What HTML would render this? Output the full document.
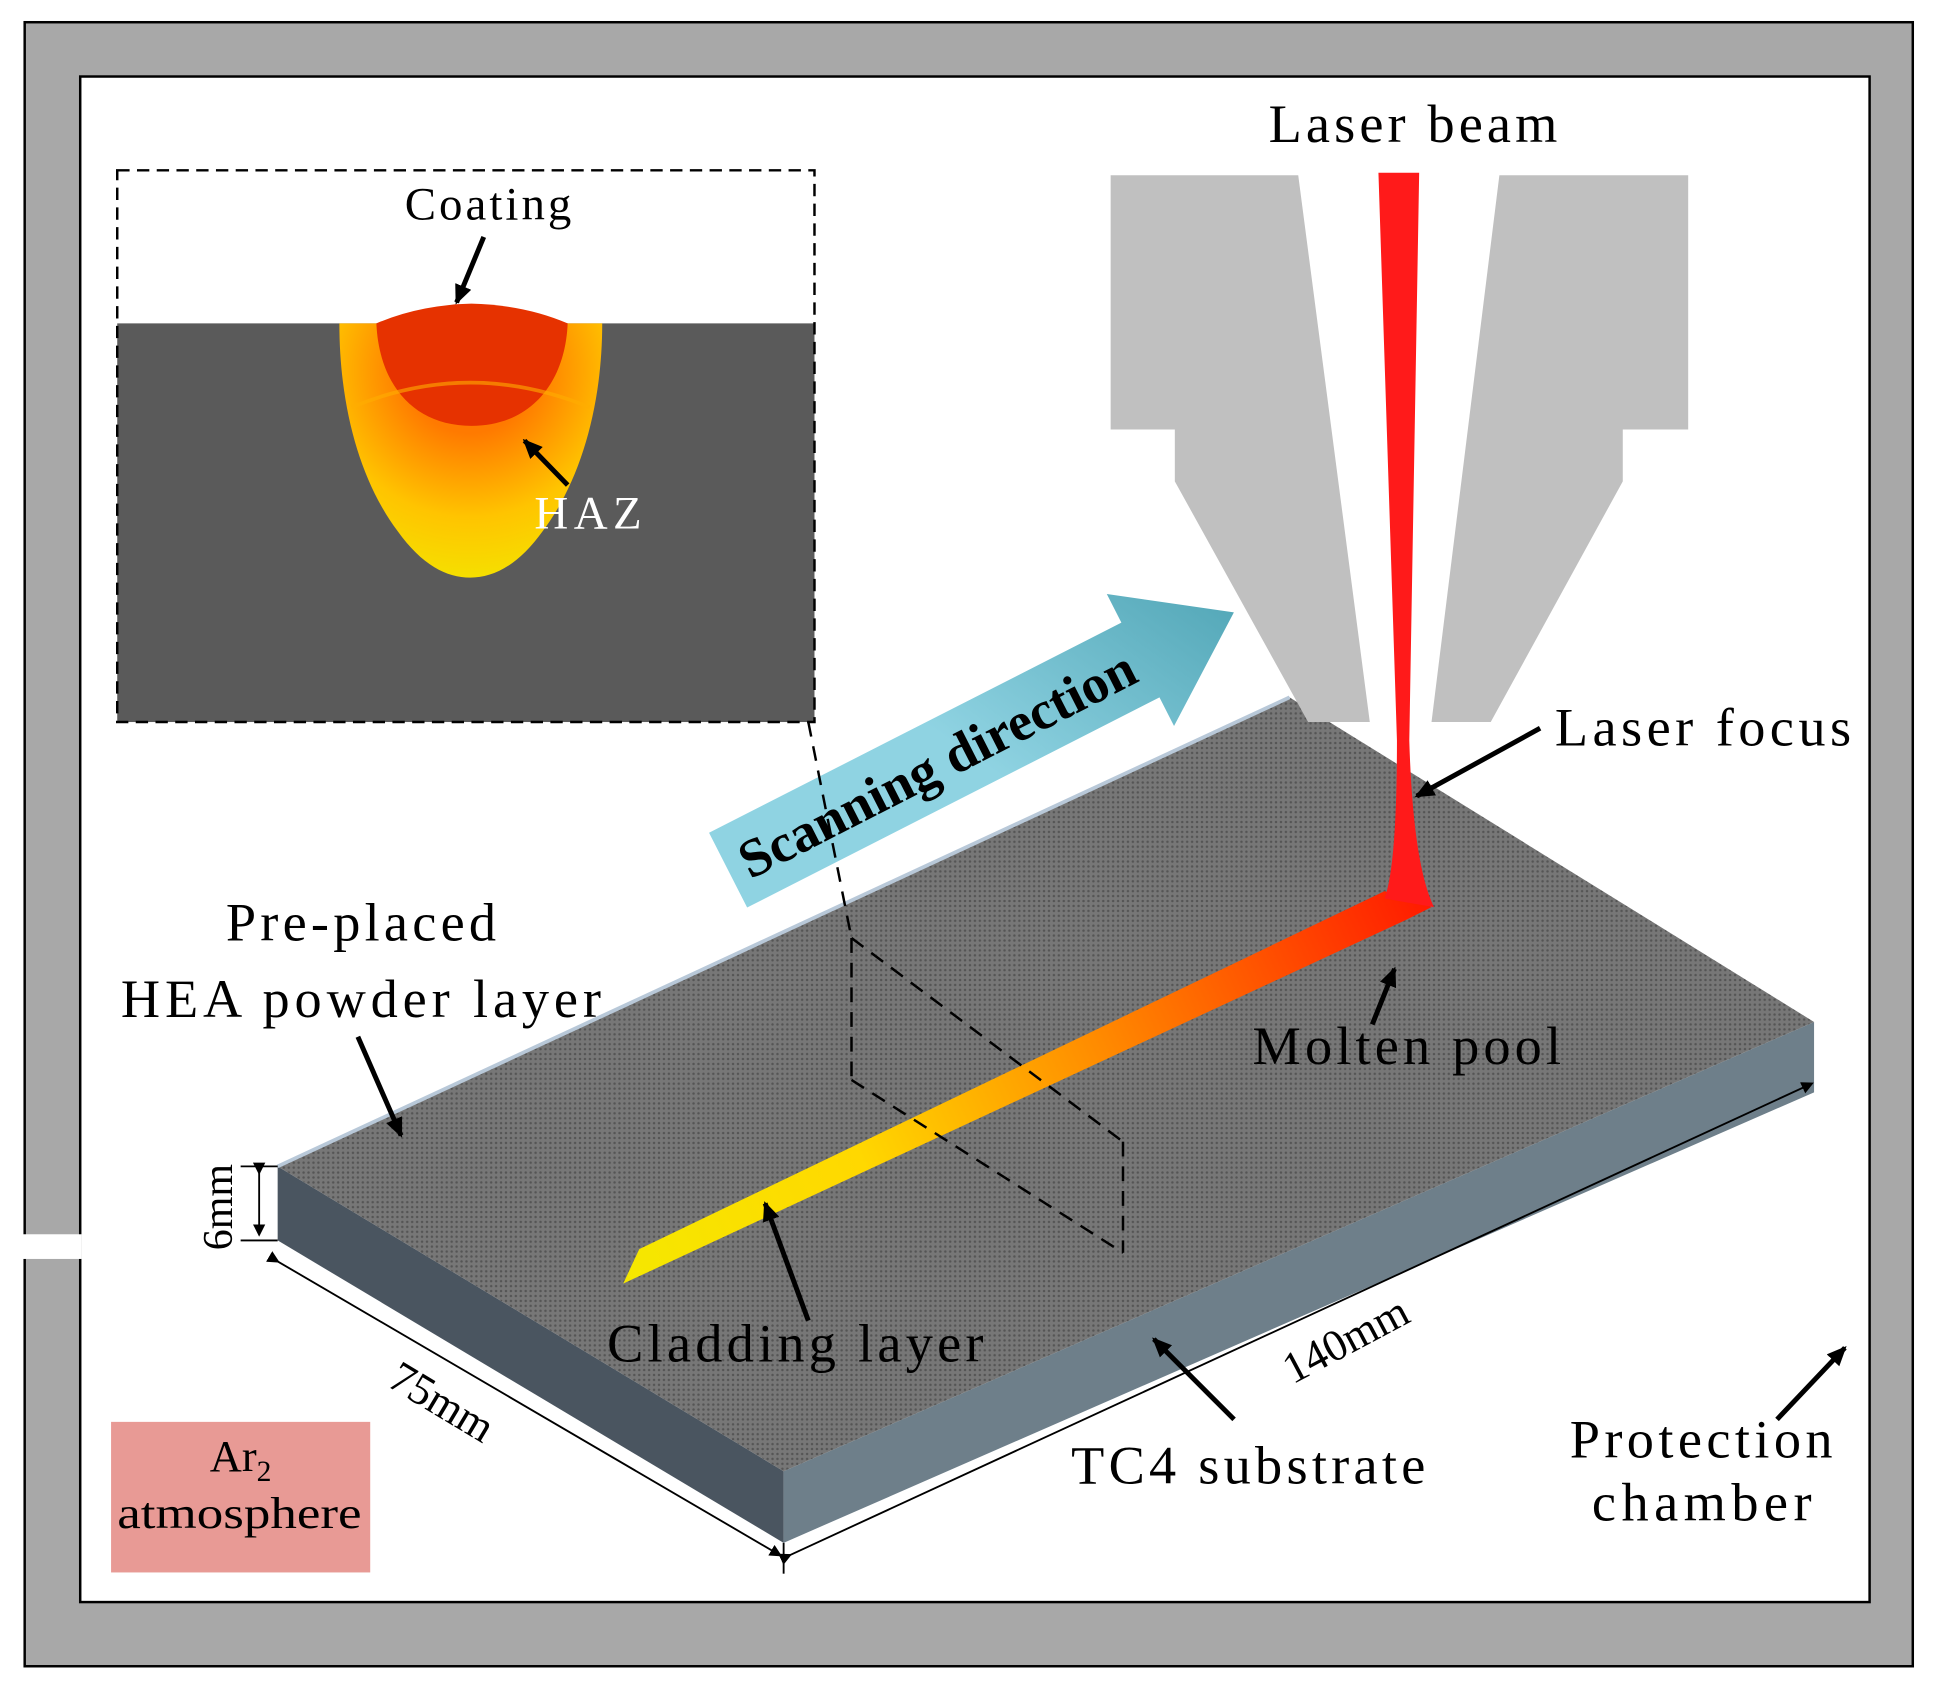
<!DOCTYPE html>
<html><head><style>html,body{margin:0;padding:0;background:#fff}svg{display:block}</style></head>
<body>
<svg width="1935" height="1686" viewBox="0 0 1568 1366" preserveAspectRatio="none" xmlns="http://www.w3.org/2000/svg" font-family="Liberation Serif, serif">
<defs>
<marker id="ah" markerWidth="10" markerHeight="10" refX="8" refY="5" orient="auto" markerUnits="userSpaceOnUse"><path d="M0,0 L10,5 L0,10 z" fill="#000"/></marker>
<marker id="ah2" markerWidth="16" markerHeight="14" refX="14" refY="7" orient="auto" markerUnits="userSpaceOnUse"><path d="M0,0 L16,7 L0,14 z" fill="#000"/></marker>
<linearGradient id="clad" x1="505" y1="1040" x2="1160" y2="735" gradientUnits="userSpaceOnUse"><stop offset="0" stop-color="#f5e800"/><stop offset="0.3" stop-color="#ffd800"/><stop offset="0.6" stop-color="#ff8a00"/><stop offset="1" stop-color="#ff1a00"/></linearGradient>
<linearGradient id="scan" x1="585" y1="700" x2="1000" y2="480" gradientUnits="userSpaceOnUse"><stop offset="0" stop-color="#8fd3e2"/><stop offset="1" stop-color="#13788a"/></linearGradient>
<radialGradient id="haz" cx="381" cy="300" r="170" gradientUnits="userSpaceOnUse"><stop offset="0.3" stop-color="#ff7a00"/><stop offset="0.7" stop-color="#ffc400"/><stop offset="1" stop-color="#f5e000"/></radialGradient>
<pattern id="dots" width="4" height="4" patternUnits="userSpaceOnUse"><rect width="4" height="4" fill="#777"/><circle cx="2" cy="2" r="1" fill="#555"/></pattern>
</defs>
<rect x="20" y="18" width="1530" height="1332" fill="#a8a8a8" stroke="#000" stroke-width="2"/>
<rect x="65" y="62" width="1450" height="1236" fill="#fff" stroke="#000" stroke-width="2"/>
<rect x="18" y="1000" width="48" height="20" fill="#fff"/>

<!-- inset -->
<rect x="95" y="262" width="565" height="323" fill="#5a5a5a"/>
<path d="M275,262 L488,262 C488,330 470,390 440,430 C420,458 400,468 381,468 C362,468 342,458 322,430 C292,390 275,330 275,262 z" fill="url(#haz)"/>
<path d="M305,262 Q340,247 382,246 Q425,247 460,262 C458,310 430,345 382,345 C334,345 307,310 305,262 z" fill="#e63200"/>
<path d="M285,330 Q381,290 478,330" stroke="#ffae00" stroke-width="3" fill="none" opacity="0.6"/>
<rect x="95" y="138" width="565" height="447" fill="none" stroke="#000" stroke-width="2" stroke-dasharray="10,6"/>

<!-- plate -->
<polygon points="225,945 635,1192 635,1250 225,1005" fill="#4a5560"/>
<polygon points="635,1192 1470,828 1470,885 635,1250" fill="#6e7f8a"/>
<polygon points="225,945 1045,565 1470,828 635,1192" fill="url(#dots)"/>
<line x1="225" y1="945" x2="1045" y2="565" stroke="#b8c8d8" stroke-width="3"/>

<!-- nozzle -->
<polygon points="900,142 1052,142 1110,585 1060,585 952,390 952,348 900,348" fill="#c0c0c0"/>
<polygon points="1215,142 1368,142 1368,348 1315,348 1315,390 1208,585 1160,585" fill="#c0c0c0"/>

<!-- cladding -->
<polygon points="505,1040 518,1012 1122,722 1160,735 1140,745" fill="url(#clad)"/>
<!-- laser -->
<path d="M1117,140 L1150,140 L1142,600 Q1145,700 1162,735 L1122,728 Q1132,700 1132,600 z" fill="#ff1a1a"/>

<!-- scanning arrow -->
<g transform="translate(590,705) rotate(-27)">
<polygon points="0,-34 375,-34 375,-60 460,0 375,60 375,34 0,34" fill="url(#scan)"/>
<text x="190" y="15" font-size="44" font-weight="bold" text-anchor="middle" fill="#000" textLength="355" lengthAdjust="spacingAndGlyphs">Scanning direction</text>
</g>

<!-- dashed plane -->
<g stroke="#000" stroke-width="2" stroke-dasharray="12,8" fill="none">
<line x1="655" y1="585" x2="690" y2="760"/>
<line x1="690" y1="760" x2="690" y2="875"/>
<line x1="690" y1="760" x2="910" y2="925"/>
<line x1="690" y1="875" x2="910" y2="1015"/>
<line x1="910" y1="925" x2="910" y2="1015"/>
</g>

<!-- arrows -->
<g stroke="#000" stroke-width="4" fill="none" marker-end="url(#ah2)">
<line x1="392" y1="192" x2="370" y2="245"/>
<line x1="460" y1="393" x2="425" y2="357"/>
<line x1="1248" y1="590" x2="1148" y2="645"/>
<line x1="1112" y1="830" x2="1130" y2="785"/>
<line x1="290" y1="840" x2="325" y2="920"/>
<line x1="655" y1="1070" x2="620" y2="975"/>
<line x1="1000" y1="1150" x2="935" y2="1085"/>
<line x1="1440" y1="1150" x2="1495" y2="1092"/>
</g>
<!-- dimensions -->
<g stroke="#000" stroke-width="1.5" fill="none">
<line x1="210" y1="950" x2="210" y2="1000" marker-end="url(#ah)" marker-start="url(#ah)"/>
<line x1="195" y1="945" x2="225" y2="945"/><line x1="195" y1="1005" x2="225" y2="1005"/>
<line x1="225" y1="1022" x2="632" y2="1260" marker-end="url(#ah)" marker-start="url(#ah)"/>
<line x1="640" y1="1260" x2="1468" y2="878" marker-end="url(#ah)" marker-start="url(#ah)"/>
<line x1="635" y1="1250" x2="635" y2="1275"/>
</g>

<g font-size="44" fill="#000" lengthAdjust="spacingAndGlyphs">
<text x="1028" y="115" textLength="234">Laser beam</text>
<text x="328" y="178" font-size="38" textLength="135">Coating</text>
<text x="433" y="428" font-size="38" fill="#fff" textLength="87">HAZ</text>
<text x="1260" y="604" textLength="240">Laser focus</text>
<text x="1015" y="862" textLength="250">Molten pool</text>
<text x="183" y="762" textLength="219">Pre-placed</text>
<text x="98" y="824" textLength="389">HEA powder layer</text>
<text x="492" y="1103" textLength="305">Cladding layer</text>
<text x="868" y="1202" textLength="287">TC4 substrate</text>
<text x="1272" y="1181" textLength="213">Protection</text>
<text x="1290" y="1232" textLength="178">chamber</text>
</g>
<g font-size="36" fill="#000" text-anchor="middle">
<text transform="translate(188,978) rotate(-90)" font-size="34">6mm</text>
<text transform="translate(352,1146) rotate(31)">75mm</text>
<text transform="translate(1096,1096) rotate(-28)">140mm</text>
</g>
<rect x="90" y="1152" width="210" height="122" fill="#e89a95"/>
<text x="195" y="1192" font-size="36" text-anchor="middle">Ar<tspan font-size="24" dy="8">2</tspan></text>
<text x="95" y="1238" font-size="36" textLength="198" lengthAdjust="spacingAndGlyphs">atmosphere</text>
</svg>
</body></html>
